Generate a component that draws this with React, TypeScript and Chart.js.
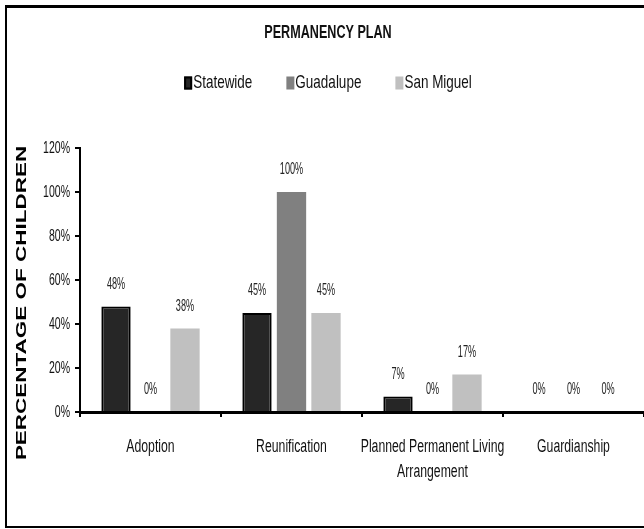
import React, { useEffect, useRef } from "react";
import { Chart, registerables } from "chart.js";

Chart.register(...registerables);

const categories: string[][] = [
  ["Adoption"],
  ["Reunification"],
  ["Planned Permanent Living", "Arrangement"],
  ["Guardianship"],
];
const seriesNames = ["Statewide", "Guadalupe", "San Miguel"];
const statewide = [48, 45, 7, 0];
const guadalupe = [0, 100, 0, 0];
const sanMiguel = [38, 45, 17, 0];
const yTicks = [0, 20, 40, 60, 80, 100, 120];
const chartTitle = "PERMANENCY PLAN";
const yTitle = "PERCENTAGE OF CHILDREN";

const FONT = '"Liberation Sans", Arial, sans-serif';
const fills = ["#262626", "#808080", "#c0c0c0"];
const borders = ["#000000", "#808080", "#c0c0c0"];
const borderWidths = [2, 0, 0];

function condensedText(
  ctx: CanvasRenderingContext2D,
  text: string,
  x: number,
  y: number,
  font: string,
  sx: number,
  align: CanvasTextAlign,
  color: string
) {
  ctx.save();
  ctx.font = font;
  ctx.fillStyle = color;
  ctx.textAlign = align;
  ctx.textBaseline = "middle";
  ctx.translate(x, y);
  ctx.scale(sx, 1);
  ctx.fillText(text, 0, 0);
  ctx.restore();
}

function condensedWidth(ctx: CanvasRenderingContext2D, text: string, font: string, sx: number) {
  ctx.save();
  ctx.font = font;
  const w = ctx.measureText(text).width * sx;
  ctx.restore();
  return w;
}

const decorPlugin = {
  id: "decor",
  afterDatasetsDraw(chart: any) {
    const ctx = chart.ctx;
    chart.data.datasets.forEach((ds: any, di: number) => {
      const meta = chart.getDatasetMeta(di);
      meta.data.forEach((el: any, i: number) => {
        condensedText(ctx, ds.data[i] + "%", el.x, el.y - 22, `16px ${FONT}`, 0.57, "center", "#222");
      });
    });
  },
  afterDraw(chart: any) {
    const ctx = chart.ctx;
    const W = chart.width;
    ctx.save();
    // frame
    ctx.strokeStyle = "#000";
    ctx.lineWidth = 3;
    ctx.beginPath();
    ctx.moveTo(5, 6.5);
    ctx.lineTo(W, 6.5);
    ctx.stroke();
    ctx.lineWidth = 2;
    ctx.beginPath();
    ctx.moveTo(6, 6);
    ctx.lineTo(6, 528);
    ctx.moveTo(5, 527);
    ctx.lineTo(W, 527);
    ctx.stroke();
    ctx.restore();

    // title
    condensedText(ctx, chartTitle, 328, 33, `bold 18px ${FONT}`, 0.7, "center", "#111");

    // legend
    const lf = `19px ${FONT}`;
    const lsx = 0.71;
    const boxW = 8, boxH = 13, gapBox = 1, gapItem = 34;
    const widths = seriesNames.map((n) => boxW + gapBox + condensedWidth(ctx, n, lf, lsx));
    const total = widths.reduce((a, b) => a + b, 0) + gapItem * (seriesNames.length - 1);
    let x = 328 - total / 2;
    const ly = 83;
    seriesNames.forEach((n, i) => {
      ctx.save();
      ctx.fillStyle = fills[i];
      ctx.fillRect(x, ly - boxH / 2, boxW, boxH);
      if (borderWidths[i]) {
        ctx.strokeStyle = "#000";
        ctx.lineWidth = 2;
        ctx.strokeRect(x + 1, ly - boxH / 2 + 1, boxW - 2, boxH - 2);
      }
      ctx.restore();
      condensedText(ctx, n, x + boxW + gapBox, ly, lf, lsx, "left", "#111");
      x += widths[i] + gapItem;
    });

    // y tick labels
    const ys = chart.scales.y;
    ys.ticks.forEach((t: any) => {
      const py = ys.getPixelForValue(t.value);
      condensedText(ctx, t.value + "%", 70, py, `17px ${FONT}`, 0.62, "right", "#111");
    });

    // x tick labels
    const xs = chart.scales.x;
    categories.forEach((lines, i) => {
      const px = xs.getPixelForTick(i);
      lines.forEach((ln, j) => {
        condensedText(ctx, ln, px, 447 + j * 25, `18px ${FONT}`, 0.68, "center", "#111");
      });
    });

    // y title
    ctx.save();
    ctx.translate(22, 303);
    ctx.rotate(-Math.PI / 2);
    ctx.scale(1.55, 1);
    ctx.font = `bold 14.5px ${FONT}`;
    ctx.textAlign = "center";
    ctx.textBaseline = "middle";
    ctx.fillStyle = "#000";
    ctx.fillText(yTitle, 0, 0);
    ctx.restore();
  },
};

export default function App() {
  const ref = useRef<HTMLCanvasElement | null>(null);
  useEffect(() => {
    document.body.style.margin = "0";
    const canvas = ref.current;
    if (!canvas) return;
    const seriesData = [statewide, guadalupe, sanMiguel];
    const chart = new Chart(canvas, {
      type: "bar",
      data: {
        labels: categories,
        datasets: seriesNames.map((name, i) => ({
          label: name,
          data: seriesData[i],
          backgroundColor: fills[i],
          borderColor: borders[i],
          borderWidth: borderWidths[i],
          categoryPercentage: 0.734,
          barPercentage: 0.85,
        })),
      },
      options: {
        animation: false,
        responsive: false,
        maintainAspectRatio: false,
        layout: { padding: { top: 148, left: 0, right: 0, bottom: 0 } },
        plugins: {
          legend: { display: false },
          title: { display: false },
          tooltip: { enabled: false },
        },
        scales: {
          x: {
            grid: {
              display: true,
              drawOnChartArea: false,
              drawTicks: true,
              tickLength: 5,
              color: "#000",
              lineWidth: 2,
              offset: true,
            },
            border: { display: true, color: "#000", width: 3 },
            ticks: { display: false, autoSkip: false },
            afterFit(scale: any) {
              scale.height = 117;
            },
          },
          y: {
            min: 0,
            max: 120,
            afterBuildTicks(scale: any) {
              scale.ticks = yTicks.map((v) => ({ value: v }));
            },
            grid: {
              display: true,
              drawOnChartArea: false,
              drawTicks: true,
              tickLength: 5,
              color: "#000",
              lineWidth: 2,
            },
            border: { display: true, color: "#000", width: 2 },
            ticks: { display: false },
            afterFit(scale: any) {
              scale.width = 80;
            },
          },
        },
      },
      plugins: [decorPlugin],
    });
    return () => chart.destroy();
  }, []);
  return (
    <div style={{ width: 644, height: 529, background: "#fff" }}>
      <canvas ref={ref} width={644} height={529} />
    </div>
  );
}
